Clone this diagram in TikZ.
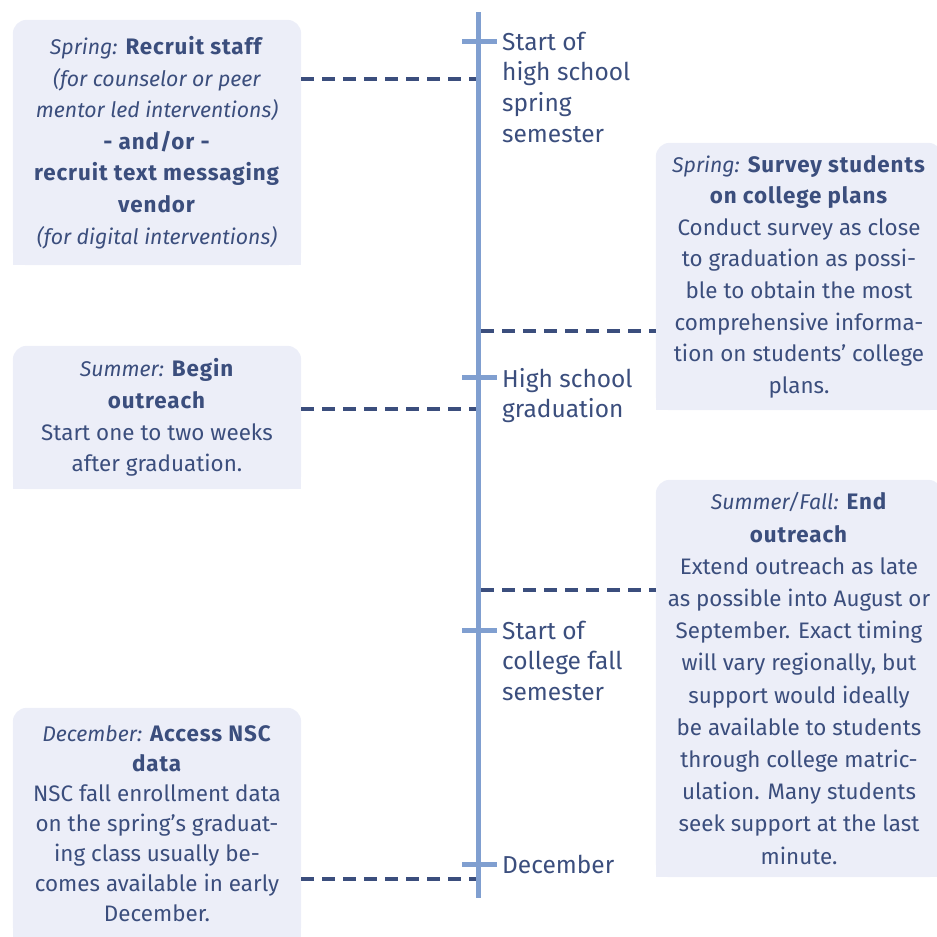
\documentclass[tikz,border=0pt]{standalone}
\usepackage{fontspec}
\setmainfont{Fira Sans}[ItalicFeatures={Scale=0.95}, BoldFeatures={LetterSpace=4}]
\usetikzlibrary{backgrounds}
\definecolor{navy}{RGB}{59,78,125}
\definecolor{tlblue}{RGB}{128,159,208}
\definecolor{boxfill}{RGB}{236,238,248}
\begin{document}
\begin{tikzpicture}[x=1pt,y=-1pt,
  evbox/.style={inner sep=0pt, align=center, text=navy, font=\fontsize{22.4}{31.6}\selectfont},
  tlabel/.style={anchor=north west, inner sep=0pt, align=left, text=navy, font=\fontsize{24.5}{30.7}\selectfont},
  dashline/.style={draw=navy, line width=3.5pt, dash pattern=on 13pt off 8pt},
  tickline/.style={draw=tlblue, line width=5pt},
  axisline/.style={draw=tlblue, line width=5pt},
]
\useasboundingbox (0,0) rectangle (937,937);

% event boxes
\node[evbox, minimum width=288pt, minimum height=245pt] (b1) at (157,142.5)
 {\textit{Spring:} \textbf{Recruit staff}\\ \textit{(for counselor or peer}\\ \textit{mentor led interventions)}\\ \textbf{- and/or -}\\ \textbf{recruit text messaging}\\ \textbf{vendor}\\ \textit{(for digital interventions)}};
\node[evbox, minimum width=288pt, minimum height=143pt] (b2) at (157,417.5)
 {\textit{Summer:} \textbf{Begin}\\ \textbf{outreach}\\ Start one to two weeks\\ after graduation.};
\node[evbox, font=\fontsize{22.4}{30}\selectfont, minimum width=288pt, minimum height=232pt] (b3) at (157,824)
 {\textit{December:} \textbf{Access NSC}\\ \textbf{data}\\ NSC fall enrollment data\\ on the spring’s graduat-\\ ing class usually be-\\ comes available in early\\ December.};
\node[evbox, minimum width=286pt, minimum height=267pt] (r1) at (799,276.5)
 {\textit{Spring:} \textbf{Survey students}\\ \textbf{on college plans}\\ Conduct survey as close\\ to graduation as possi-\\ ble to obtain the most\\ comprehensive informa-\\ tion on students’ college\\ plans.};
\node[evbox, font=\fontsize{22.4}{32.2}\selectfont, minimum width=286pt, minimum height=397pt] (r2) at (799,678.5)
 {\textit{Summer/Fall:} \textbf{End}\\ \textbf{outreach}\\ Extend outreach as late\\ as possible into August or\\ September. Exact timing\\ will vary regionally, but\\ support would ideally\\ be available to students\\ through college matric-\\ ulation. Many students\\ seek support at the last\\ minute.};

\begin{scope}[on background layer]
\foreach \b in {b1,b2,b3,r1,r2}{
  \fill[boxfill, rounded corners=14pt] (\b.south west) rectangle (\b.north east);
  \fill[boxfill] (\b.south west) rectangle (\b.east);
}
\end{scope}

% timeline
\coordinate (top) at (478,12);
\coordinate (bot) at (478,898);
\draw[axisline] (top) -- (bot);
\coordinate (k1) at (478,41);
\coordinate (k2) at (478,377);
\coordinate (k3) at (478,630);
\coordinate (k4) at (478,864);
\foreach \k in {k1,k2,k3,k4}{\draw[tickline] ([xshift=-16pt]\k) -- ([xshift=19pt]\k);}

\node[tlabel] (l1) at (502,31.7) {Start of\\high school\\spring\\semester};
\node[tlabel] (l2) at (502,367.7) {High school\\graduation};
\node[tlabel] (l3) at (502,620.7) {Start of\\college fall\\semester};
\node[tlabel] (l4) at (502,854.7) {December};

% dashed connectors
\coordinate (d1) at (476,79);
\coordinate (d2) at (476,409);
\coordinate (d3) at (476,879);
\coordinate (d4) at (481,331);
\coordinate (d5) at (481,590);
\draw[dashline] (d1 -| b1.east) -- (d1);
\draw[dashline] (d2 -| b2.east) -- (d2);
\draw[dashline] (d3 -| b3.east) -- (d3);
\draw[dashline] (d4) -- (d4 -| r1.west);
\draw[dashline] (d5) -- (d5 -| r2.west);
\end{tikzpicture}
\end{document}
